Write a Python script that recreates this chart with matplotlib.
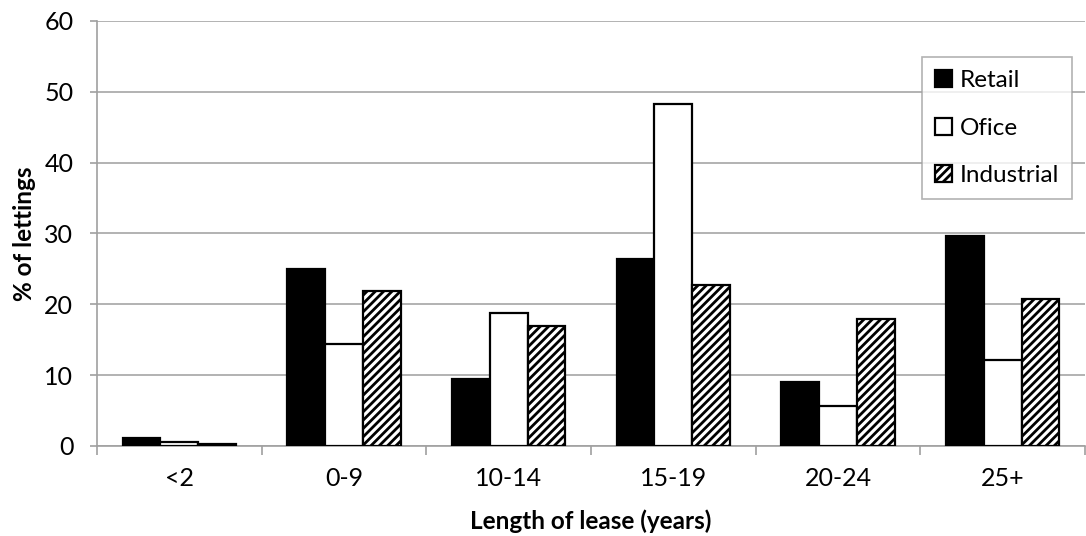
import matplotlib
matplotlib.use("Agg")
import matplotlib.pyplot as plt
import numpy as np

categories = ["<2", "0-9", "10-14", "15-19", "20-24", "25+"]
retail = [1.1, 25.0, 9.4, 26.4, 9.0, 29.7]
office = [0.5, 14.4, 18.8, 48.3, 5.6, 12.2]
industrial = [0.3, 21.9, 16.9, 22.7, 17.9, 20.7]
series_names = ["Retail", "Ofice", "Industrial"]

plt.rcParams['font.family'] = ['Lato', 'DejaVu Sans']
plt.rcParams['hatch.linewidth'] = 2.0

fig = plt.figure(figsize=(10.86, 5.36), dpi=100)
ax = fig.add_axes([0.0893, 0.168, 0.9098, 0.793])

x = np.arange(len(categories))
w = 0.229
lw = 1.6
ax.bar(x - w, retail, w, color='black', edgecolor='black', linewidth=lw, label=series_names[0], zorder=3)
ax.bar(x, office, w, color='white', edgecolor='black', linewidth=lw, label=series_names[1], zorder=3)
ax.bar(x + w, industrial, w, color='white', edgecolor='black', linewidth=lw, hatch='////', label=series_names[2], zorder=3)

ax.set_ylim(0, 60)
ax.set_xlim(-0.5, len(categories) - 0.5)
ax.set_yticks(range(0, 61, 10))
ax.set_xticks(x)
ax.set_xticklabels(categories)
ax.set_xticks(np.arange(-0.5, len(categories)), minor=True)
ax.tick_params(axis='x', which='major', length=0, labelsize=18, pad=15)
ax.tick_params(axis='x', which='minor', length=6.5, color='#a0a0a0', width=1.2, direction='out')
ax.tick_params(axis='y', length=5, color='#a0a0a0', width=1.2, labelsize=18, pad=12)
ax.yaxis.grid(True, color='#a6a6a6', linewidth=1.2, zorder=0)
ax.set_axisbelow(True)
for s in ['top', 'right']:
    ax.spines[s].set_visible(False)
for s in ['left', 'bottom']:
    ax.spines[s].set_color('#a0a0a0')
    ax.spines[s].set_linewidth(1.2)

ax.set_ylabel("% of lettings", fontsize=17.5, fontweight='bold', labelpad=6)
ax.set_xlabel("Length of lease (years)", fontsize=17.5, fontweight='bold', labelpad=14)

leg = ax.legend(loc='upper right', bbox_to_anchor=(0.987, 0.915), fontsize=17.5,
                frameon=True, fancybox=False, edgecolor='#a0a0a0',
                handlelength=0.7, handleheight=0.7, handletextpad=0.3,
                labelspacing=1.08, borderpad=0.55, borderaxespad=0)
leg.get_frame().set_linewidth(1.2)

fig.savefig("out.png", dpi=100)
